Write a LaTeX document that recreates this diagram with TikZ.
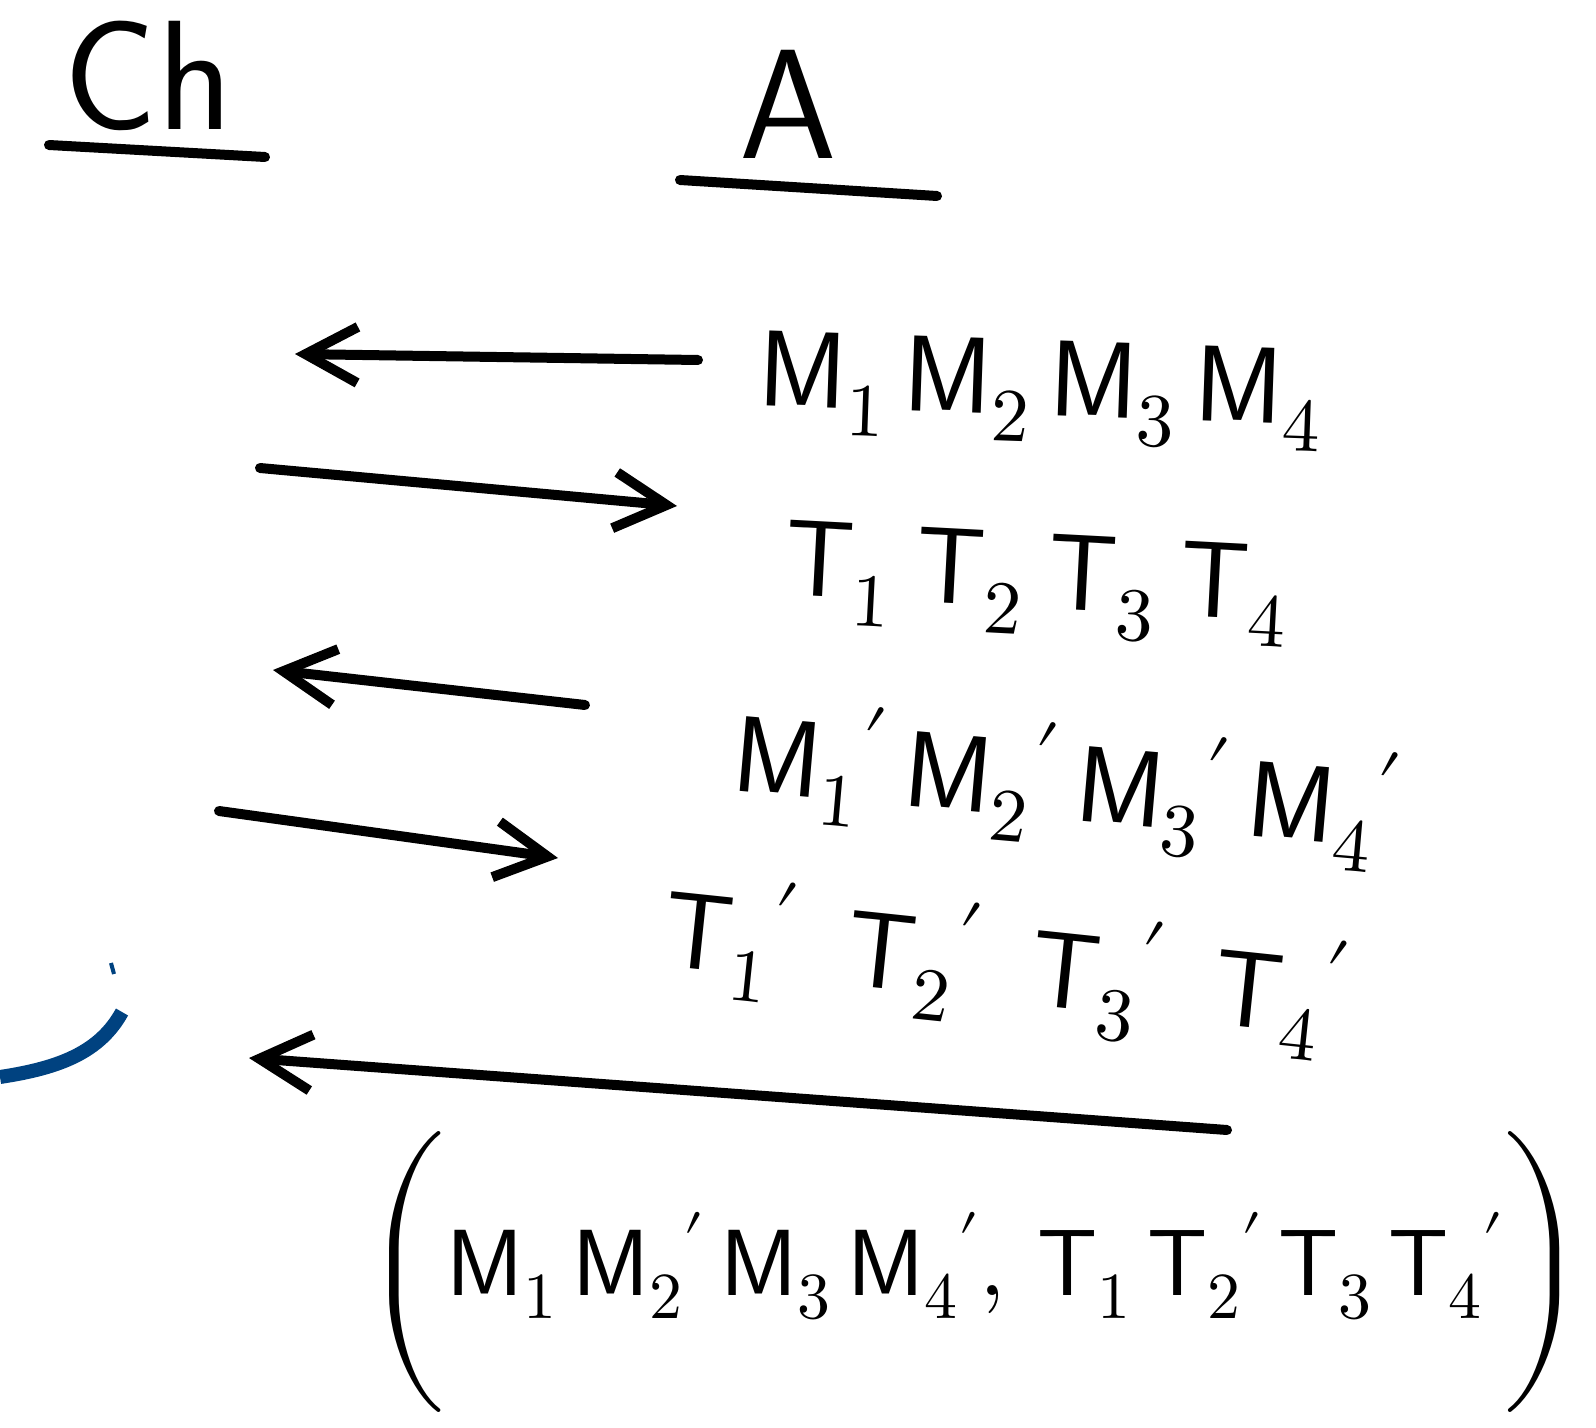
\documentclass[tikz,border=0pt]{standalone}
\usepackage{fontspec}
\usepackage{unicode-math}
\setmathfont{Latin Modern Math}
\usetikzlibrary{arrows.meta}
\definecolor{penblue}{RGB}{0,66,128}
\newcommand{\pr}{{}^{\prime}}
\begin{document}
\begin{tikzpicture}[x=0.5pt,y=-0.5pt,
  ink/.style={line width=5pt,line cap=round,line join=round},
  arr/.style={ink,-{Straight Barb[length=26pt,width=28pt,line width=5pt]}},
  lbl/.style={font=\fontsize{54}{60}\selectfont,inner sep=0pt},
  head/.style={font=\sffamily\fontsize{78}{88}\selectfont,inner sep=0pt}]
\useasboundingbox (0,0) rectangle (1596,1428);

% headers
\node[head] (ch) at (148,76) {Ch};
\node[head] (adv) at (788,104) {A};
\coordinate (chUa) at (49,145);
\coordinate (chUb) at (265,157);
\coordinate (aUa) at (680,180);
\coordinate (aUb) at (937,196);
\draw[ink] (chUa) -- (chUb);
\draw[ink] (aUa) -- (aUb);

% messages
\node[lbl,rotate=-2] (mrow) at (1040,392) {$\mathsf{M}_1\,\mathsf{M}_2\,\mathsf{M}_3\,\mathsf{M}_4$};
\node[lbl,rotate=-3] (trow) at (1036,585) {$\mathsf{T}_1\hspace{12pt}\mathsf{T}_2\hspace{12pt}\mathsf{T}_3\hspace{12pt}\mathsf{T}_4$};
\node[lbl,rotate=-5] (mprow) at (1066,786) {$\mathsf{M}_1\pr\hspace{10pt}\mathsf{M}_2\pr\hspace{10pt}\mathsf{M}_3\pr\hspace{10pt}\mathsf{M}_4\pr$};
\node[lbl,rotate=-6] (tprow) at (1005,968) {$\mathsf{T}_1\pr\hspace{26pt}\mathsf{T}_2\pr\hspace{26pt}\mathsf{T}_3\pr\hspace{26pt}\mathsf{T}_4\pr$};
\node[lbl,font=\fontsize{47}{54}\selectfont] (final) at (975,1272) {$\Biggl(\mathsf{M}_1\,\mathsf{M}_2\pr\,\mathsf{M}_3\,\mathsf{M}_4\pr,\,\mathsf{T}_1\,\mathsf{T}_2\pr\,\mathsf{T}_3\,\mathsf{T}_4\pr\Biggr)$};

% arrow end points
\coordinate (a1s) at (698,360);
\coordinate (a1e) at (295,354);
\coordinate (a2s) at (260,468);
\coordinate (a2e) at (677,506);
\coordinate (a3s) at (585,705);
\coordinate (a3e) at (273,670);
\coordinate (a4s) at (219,811);
\coordinate (a4e) at (558,858);
\coordinate (a5s) at (1227,1130);
\coordinate (a5e) at (249,1058);
\draw[arr] (a1s) -- (a1e);
\draw[arr] (a2s) -- (a2e);
\draw[arr] (a3s) -- (a3e);
\draw[arr] (a4s) -- (a4e);
\draw[arr] (a5s) -- (a5e);

% blue stroke at the left edge
\coordinate (b0) at (0,1077);
\coordinate (b1) at (122,1012);
\coordinate (b2) at (111,963);
\coordinate (b3) at (114,974);
\draw[line width=7pt,penblue,line cap=butt] (b0) .. controls (60,1068) and (100,1052) .. (b1);
\draw[line width=2pt,penblue] (b2) -- (b3);
\end{tikzpicture}
\end{document}
